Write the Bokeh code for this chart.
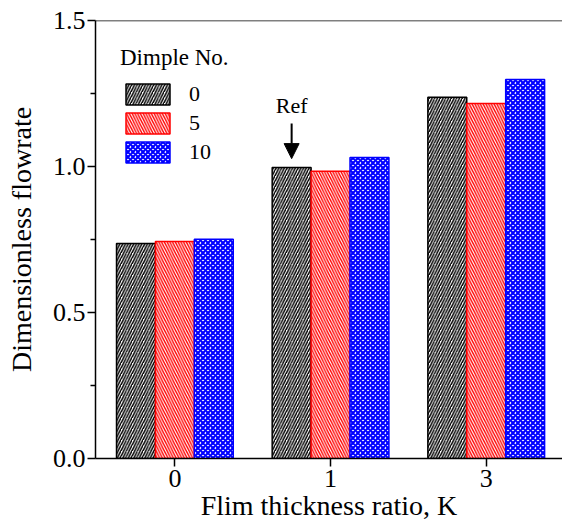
from bokeh.plotting import figure
from bokeh.models import (Range1d, FixedTicker, ColumnDataSource, Legend, LegendItem,
                          Arrow, NormalHead, Label, Span, PrintfTickFormatter)
from bokeh.transform import dodge
from bokeh.embed import file_html
from bokeh.resources import INLINE

# ---- data ----
k_labels = ["0", "1", "3"]
dimple_labels = ["0", "5", "10"]
flow_d0 = [0.736, 0.997, 1.237]
flow_d5 = [0.743, 0.984, 1.216]
flow_d10 = [0.751, 1.031, 1.298]
x_title = "Flim thickness ratio, K"
y_title = "Dimensionless flowrate"

x_pos = list(range(len(k_labels)))
src = ColumnDataSource(dict(x=x_pos, d0=flow_d0, d5=flow_d5, d10=flow_d10))

FONT = "Liberation Serif"

p = figure(width=562, height=531, x_range=Range1d(-0.51, 2.49), y_range=Range1d(0, 1.5),
           output_backend="svg", toolbar_location=None,
           min_border_left=95, min_border_right=0, min_border_top=20, min_border_bottom=73)
p.grid.visible = False
p.outline_line_color = None

bw = 0.25
r0 = p.vbar(x=dodge("x", -bw, range=p.x_range), top="d0", width=bw, source=src,
            fill_color="white", line_color="black", line_width=1.5,
            hatch_pattern="/", hatch_color="black", hatch_scale=5.5, hatch_weight=1.5)
r5 = p.vbar(x=dodge("x", 0, range=p.x_range), top="d5", width=bw, source=src,
            fill_color="white", line_color="red", line_width=1.5,
            hatch_pattern="\\", hatch_color="red", hatch_scale=5.5, hatch_weight=1.4)
r10 = p.vbar(x=dodge("x", bw, range=p.x_range), top="d10", width=bw, source=src,
             fill_color="white", line_color="blue", line_width=1.5,
             hatch_pattern="x", hatch_color="blue", hatch_scale=5, hatch_weight=2.2)

# top frame line
p.add_layout(Span(location=p.y_range.end, dimension="width", line_color="black",
                  line_width=1.5))

# axes
xa = p.xaxis[0]
xa.ticker = FixedTicker(ticks=x_pos)
xa.major_label_overrides = {i: s for i, s in zip(x_pos, k_labels)}
xa.minor_tick_line_color = None
xa.axis_label = x_title
ya = p.yaxis[0]
ya.ticker = FixedTicker(ticks=[0, 0.5, 1.0, 1.5], minor_ticks=[0.25, 0.75, 1.25])
ya.formatter = PrintfTickFormatter(format="%.1f")
ya.axis_label = y_title

for ax in (xa, ya):
    ax.axis_line_width = 1.5
    ax.axis_line_color = "black"
    ax.major_tick_line_width = 1.5
    ax.major_tick_line_color = "black"
    ax.minor_tick_line_width = 1.5
    ax.major_tick_in = 0
    ax.major_tick_out = 8
    ax.minor_tick_in = 0
    ax.minor_tick_out = 5
    ax.major_label_text_font = FONT
    ax.major_label_text_font_size = "26px"
    ax.major_label_text_color = "black"
    ax.axis_label_text_font = FONT
    ax.axis_label_text_font_size = "28px"
    ax.axis_label_text_font_style = "normal"
    ax.axis_label_text_color = "black"
ya.major_label_standoff = 2
xa.major_label_standoff = 3
ya.axis_label_standoff = 13
xa.axis_label_standoff = 0

legend = Legend(items=[LegendItem(label=dimple_labels[0], renderers=[r0]),
                       LegendItem(label=dimple_labels[1], renderers=[r5]),
                       LegendItem(label=dimple_labels[2], renderers=[r10])],
                title="Dimple No.", location=(20, 288),
                glyph_width=55, glyph_height=26, spacing=3, padding=5,
                label_standoff=14, label_height=26,
                border_line_alpha=0, background_fill_alpha=0,
                label_text_font=FONT, label_text_font_size="22px",
                label_text_color="black",
                title_text_font=FONT, title_text_font_size="23px",
                title_text_color="black",
                title_text_font_style="normal", title_standoff=10)
p.add_layout(legend)

# Ref annotation
ref_x = x_pos[1] - bw
p.add_layout(Arrow(end=NormalHead(size=15, fill_color="black", line_color="black"),
                   x_start=ref_x, y_start=flow_d0[1] + 0.15,
                   x_end=ref_x, y_end=flow_d0[1] + 0.03,
                   line_width=2, line_color="black"))
p.add_layout(Label(x=ref_x, y=flow_d0[1] + 0.17, text="Ref", text_align="center",
                   text_font=FONT, text_font_size="22px", text_color="black"))

open("out.html", "w").write(file_html(p, INLINE))
